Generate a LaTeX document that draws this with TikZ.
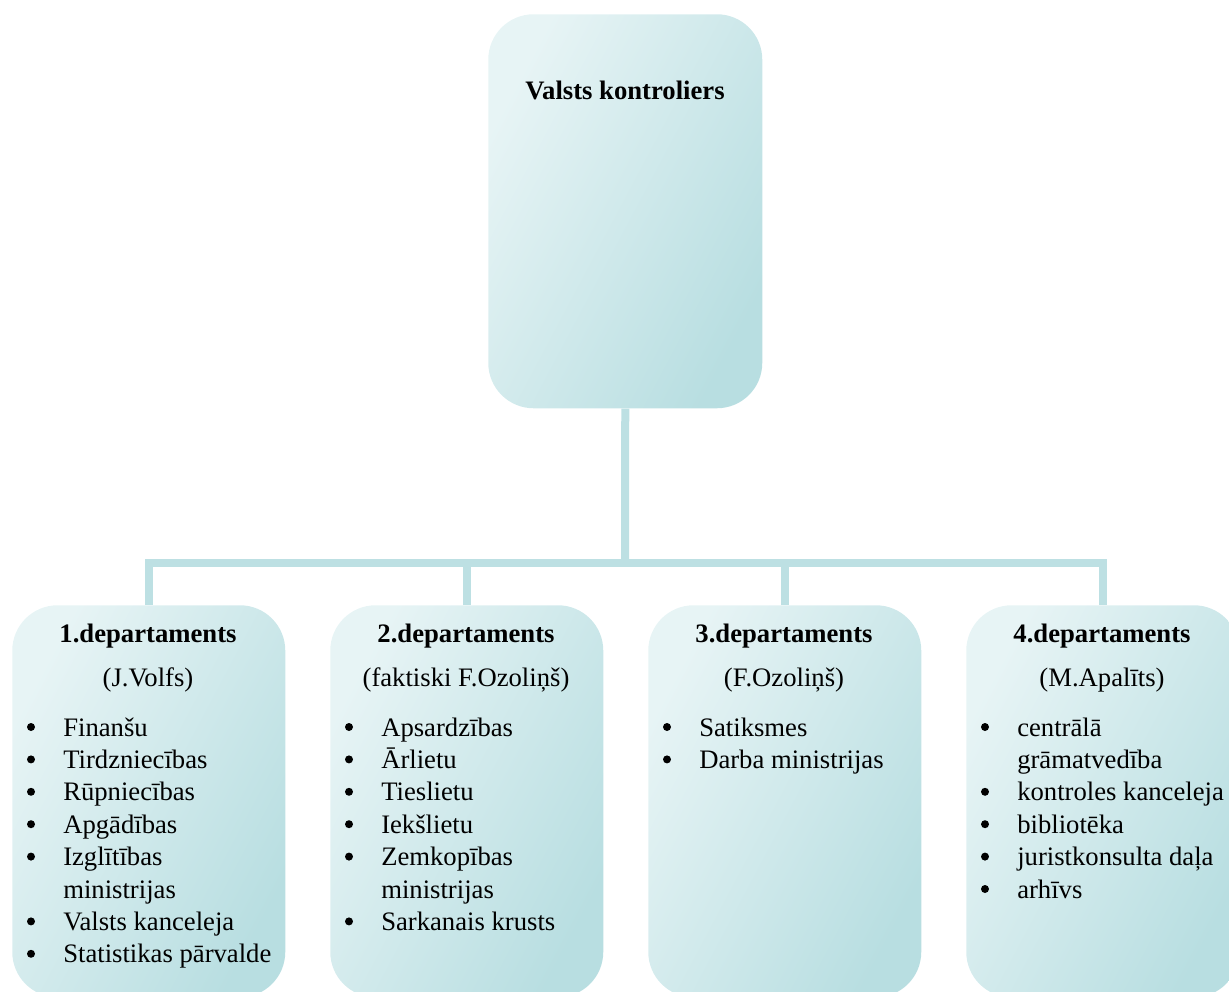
\documentclass[tikz,border=0pt]{standalone}
\usepackage{fontspec}
\setmainfont{Liberation Serif}
\usetikzlibrary{backgrounds}
\definecolor{lite}{HTML}{E7F4F5}
\definecolor{dark}{HTML}{B8DEE1}
\definecolor{connc}{HTML}{BDE0E3}
\newcommand\deptlist[3]{%
  \foreach \f/\t [count=\k from 0] in {#3} {
    \node[item, anchor=base west] (#1-\k) at ({#2+51},{736+32.4*\k}) {\t};
    \if b\f \fill ({#2+19},{727+32.4*\k}) circle (3pt);\fi
  }}
\begin{document}
\begin{tikzpicture}[x=0.75pt,y=-0.75pt,
  box/.style={rounded corners=34pt, inner sep=0pt, anchor=north west,
    top color=lite, bottom color=dark, shading angle=62, draw=none},
  conn/.style={draw=connc, line width=6pt, line join=miter},
  item/.style={font=\fontsize{20}{24}\selectfont, inner sep=0pt},
  head/.style={item, font=\fontsize{20}{24}\selectfont\bfseries, anchor=base},
  sub/.style={item, anchor=base}]
\useasboundingbox (0,0) rectangle (1229,992);
\clip (0,0) rectangle (1229,992);
% boxes
\node[box, minimum width=205.5pt, minimum height=295.5pt] (top) at (488,14) {};
\node[box, minimum width=204.75pt, minimum height=294pt] (d1) at (12,605) {};
\node[box, minimum width=204.75pt, minimum height=294pt] (d2) at (330,605) {};
\node[box, minimum width=204.75pt, minimum height=294pt] (d3) at (648,605) {};
\node[box, minimum width=204.75pt, minimum height=294pt] (d4) at (966,605) {};
% connectors
\coordinate (j) at (625,563);
\begin{scope}[on background layer]
\draw[conn] (top.south) -- (j);
\draw[conn] (d1.north) -- (d1.north |- j) -- (d4.north |- j) -- (d4.north);
\draw[conn] (d2.north) -- (d2.north |- j);
\draw[conn] (d3.north) -- (d3.north |- j);
\end{scope}
% texts
\node[head] (tt) at (625,99) {Valsts kontroliers};
\node[head] (h1) at (148,642) {1.departaments};
\node[head] (h2) at (466,642) {2.departaments};
\node[head] (h3) at (784,642) {3.departaments};
\node[head] (h4) at (1102,642) {4.departaments};
\node[sub] (s1) at (148,686) {(J.Volfs)};
\node[sub] (s2) at (466,686) {(faktiski F.Ozoliņš)};
\node[sub] (s3) at (784,686) {(F.Ozoliņš)};
\node[sub] (s4) at (1102,686) {(M.Apalīts)};
\deptlist{a}{12}{b/Finanšu, b/Tirdzniecības, b/Rūpniecības, b/Apgādības, b/Izglītības, n/ministrijas, b/Valsts kanceleja, b/Statistikas pārvalde}
\deptlist{b}{330}{b/Apsardzības, b/Ārlietu, b/Tieslietu, b/Iekšlietu, b/Zemkopības, n/ministrijas, b/Sarkanais krusts}
\deptlist{c}{648}{b/Satiksmes, b/Darba ministrijas}
\deptlist{d}{966}{b/centrālā, n/grāmatvedība, b/kontroles kanceleja, b/bibliotēka, b/juristkonsulta daļa, b/arhīvs}
\end{tikzpicture}
\end{document}
